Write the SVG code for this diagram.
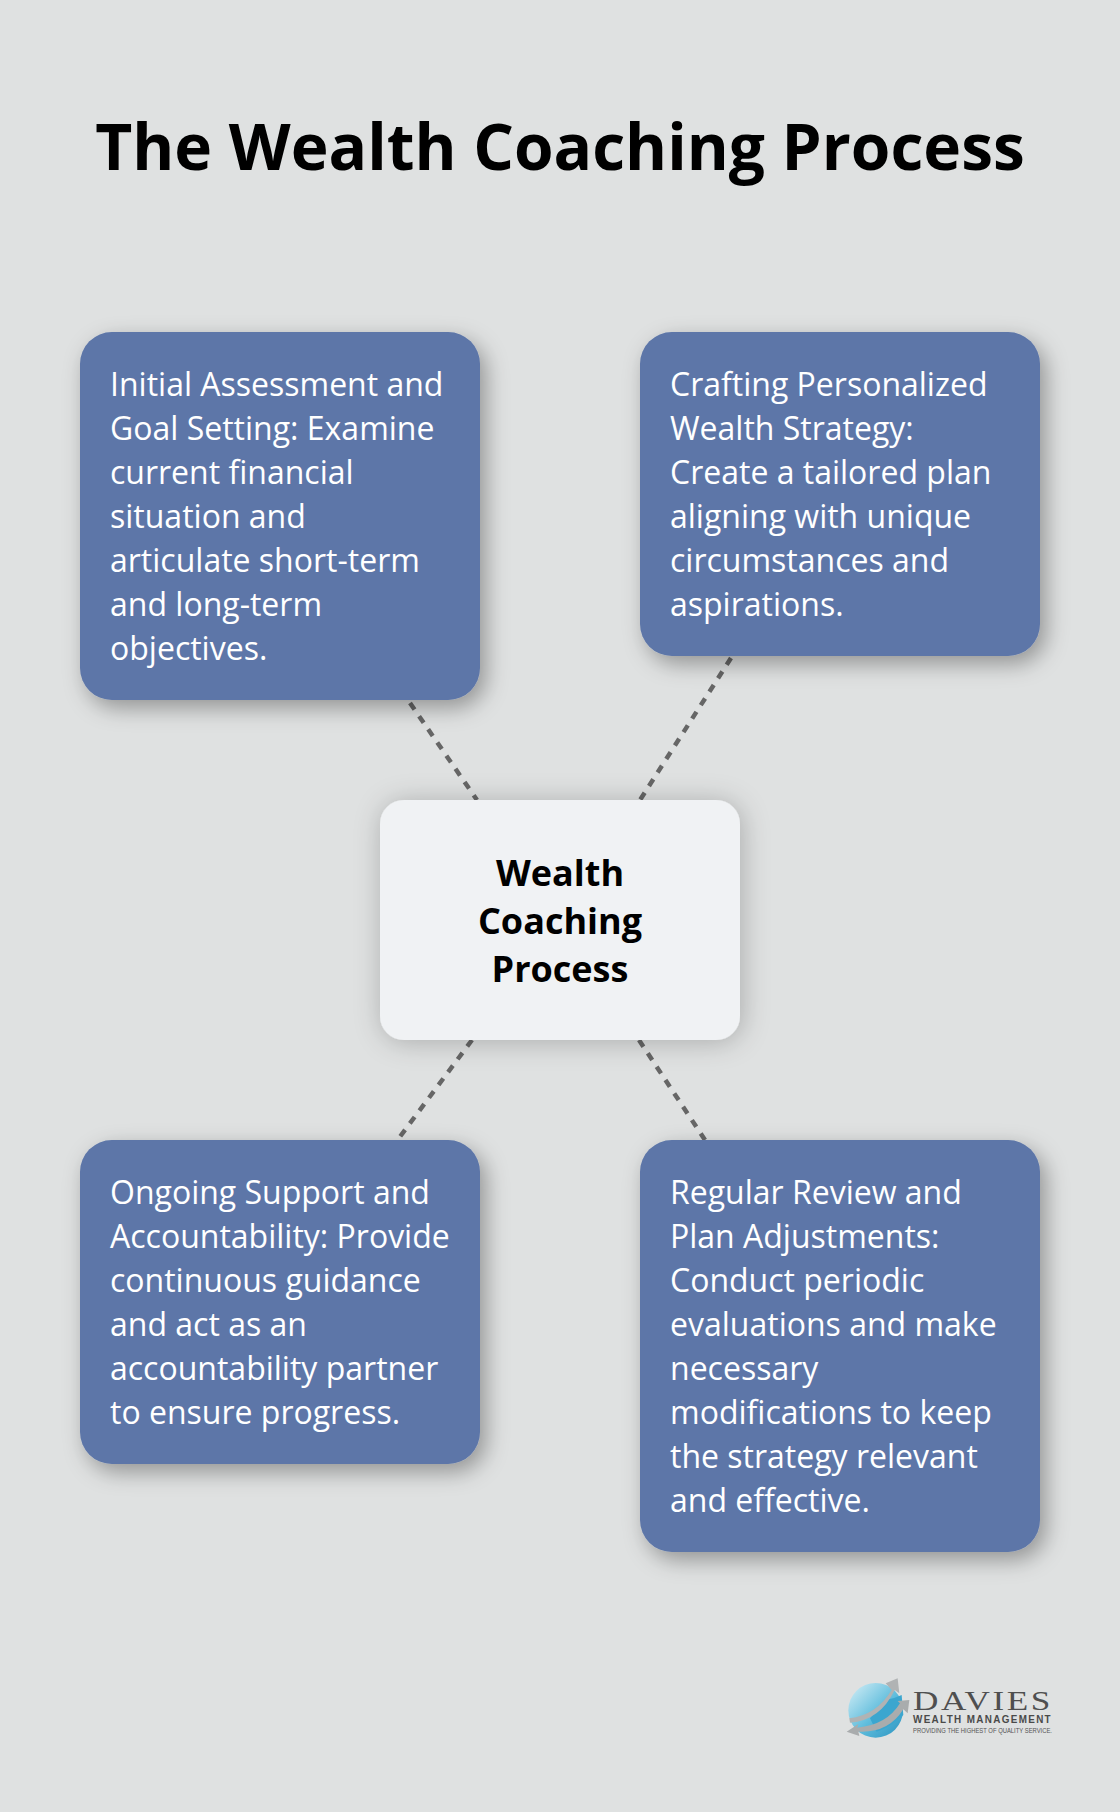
<svg xmlns="http://www.w3.org/2000/svg" width="1120" height="1812" viewBox="0 0 1120 1812">
<defs>
<style>
.t{font-family:"Open Sans","Noto Sans",sans-serif;font-size:32px;fill:#fff}
.c{font-family:"Open Sans","Noto Sans",sans-serif;font-size:36px;font-weight:700;fill:#000;text-anchor:middle}
.b{fill:#5d76a8;filter:url(#s1)}
.l{stroke:#666;stroke-width:4.500;stroke-dasharray:8 8;fill:none}
</style>
<filter id="s1" x="-20%" y="-20%" width="140%" height="140%"><feDropShadow dx="6" dy="8" stdDeviation="11" flood-color="#000" flood-opacity=".34"/></filter>
<filter id="s2" x="-20%" y="-20%" width="140%" height="140%"><feDropShadow dx="2" dy="2" stdDeviation="14" flood-color="#000" flood-opacity=".24"/></filter>
<linearGradient id="g" x1="0" y1="0" x2="1" y2="1"><stop offset="0" stop-color="#d8f0f7"/><stop offset=".55" stop-color="#5dbcdc"/><stop offset="1" stop-color="#2a93c0"/></linearGradient>
</defs>
<rect width="1120" height="1812" fill="#dfe1e1"/>
<text id="title" x="560" y="170" text-anchor="middle" style="font-family:'Open Sans','Noto Sans',sans-serif;font-size:64px;font-weight:700" fill="#000">The Wealth Coaching Process</text>
<g id="connectors">
<line class="l" x1="410" y1="703" x2="477" y2="800"/>
<line class="l" x1="731" y1="658" x2="640" y2="800"/>
<line class="l" x1="472" y1="1040" x2="396" y2="1142"/>
<line class="l" x1="639" y1="1040" x2="705" y2="1140"/>
</g>
<g id="node-assessment"><rect class="b" x="80" y="332" width="400" height="368" rx="32"/>
<text class="t"><tspan x="110" y="396">Initial Assessment and</tspan><tspan x="110" y="440">Goal Setting: Examine</tspan><tspan x="110" y="484">current financial</tspan><tspan x="110" y="528">situation and</tspan><tspan x="110" y="572">articulate short-term</tspan><tspan x="110" y="616">and long-term</tspan><tspan x="110" y="660">objectives.</tspan></text></g>
<g id="node-strategy"><rect class="b" x="640" y="332" width="400" height="324" rx="32"/>
<text class="t"><tspan x="670" y="396">Crafting Personalized</tspan><tspan x="670" y="440">Wealth Strategy:</tspan><tspan x="670" y="484">Create a tailored plan</tspan><tspan x="670" y="528">aligning with unique</tspan><tspan x="670" y="572">circumstances and</tspan><tspan x="670" y="616">aspirations.</tspan></text></g>
<g id="node-center"><rect x="380" y="800" width="360" height="240" rx="24" fill="#f0f2f4" filter="url(#s2)"/>
<text class="c"><tspan x="560" y="886">Wealth</tspan><tspan x="560" y="934">Coaching</tspan><tspan x="560" y="982">Process</tspan></text></g>
<g id="node-support"><rect class="b" x="80" y="1140" width="400" height="324" rx="32"/>
<text class="t"><tspan x="110" y="1204">Ongoing Support and</tspan><tspan x="110" y="1248">Accountability: Provide</tspan><tspan x="110" y="1292">continuous guidance</tspan><tspan x="110" y="1336">and act as an</tspan><tspan x="110" y="1380">accountability partner</tspan><tspan x="110" y="1424">to ensure progress.</tspan></text></g>
<g id="node-review"><rect class="b" x="640" y="1140" width="400" height="412" rx="32"/>
<text class="t"><tspan x="670" y="1204">Regular Review and</tspan><tspan x="670" y="1248">Plan Adjustments:</tspan><tspan x="670" y="1292">Conduct periodic</tspan><tspan x="670" y="1336">evaluations and make</tspan><tspan x="670" y="1380">necessary</tspan><tspan x="670" y="1424">modifications to keep</tspan><tspan x="670" y="1468">the strategy relevant</tspan><tspan x="670" y="1512">and effective.</tspan></text></g>
<g id="logo">
<g transform="translate(820 1660) scale(.3333)">
<circle cx="167" cy="151" r="82" fill="url(#g)"/>
<path d="M195 120Q225 115 245 105L250 165Q215 200 170 215L150 175Z" fill="#3ba6cf"/>
<path d="M88 175Q170 165 215 90L197 70L233 55L238 100L224 90Q180 182 90 188Z" fill="#b0b3b4"/>
<path d="M80 215L115 192L112 203Q200 195 240 130L233 123L268 120L263 160L250 148Q205 220 115 215L118 228Z" fill="#a9acad"/>
</g>
<text x="913" y="1710" textLength="140" lengthAdjust="spacingAndGlyphs" letter-spacing="2" style="font-family:'Liberation Serif',serif;font-size:27px" fill="#4f4f4f">DAVIES</text>
<text x="913" y="1723" textLength="139" lengthAdjust="spacingAndGlyphs" letter-spacing="1.500" style="font-family:'Liberation Sans',sans-serif;font-size:11px;font-weight:700" fill="#4a4a4a">WEALTH MANAGEMENT</text>
<text x="913" y="1732.500" textLength="139" lengthAdjust="spacingAndGlyphs" style="font-family:'Liberation Sans',sans-serif;font-size:6.500px" fill="#555">PROVIDING THE HIGHEST OF QUALITY SERVICE.</text>
</g>
</svg>
